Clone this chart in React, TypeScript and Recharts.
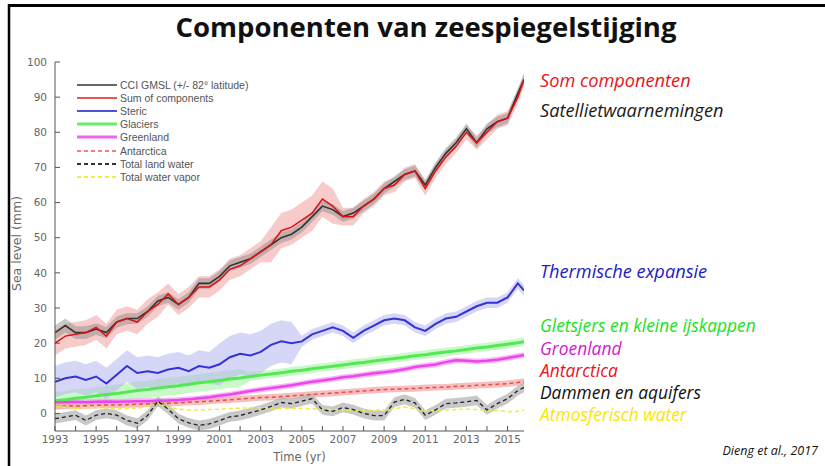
import React from "react";
import { ComposedChart, Line, Area, XAxis, YAxis, Legend } from "recharts";

// time axis (yr), half-year samples
const years = [
  1993, 1993.5, 1994, 1994.5, 1995, 1995.5, 1996, 1996.5, 1997, 1997.5,
  1998, 1998.5, 1999, 1999.5, 2000, 2000.5, 2001, 2001.5, 2002, 2002.5,
  2003, 2003.5, 2004, 2004.5, 2005, 2005.5, 2006, 2006.5, 2007, 2007.5,
  2008, 2008.5, 2009, 2009.5, 2010, 2010.5, 2011, 2011.5, 2012, 2012.5,
  2013, 2013.5, 2014, 2014.5, 2015, 2015.5, 2015.8,
];

// sea level (mm)
const gmsl = [
  23, 25, 23, 23, 24, 23, 26, 27, 27, 29,
  32, 33, 31, 33, 37, 37, 39, 42, 43, 44,
  46, 48, 50, 51, 53, 56, 59, 58, 56, 57,
  59, 61, 64, 66, 68, 69, 65, 70, 74, 77,
  81, 77, 81, 83, 84, 91, 95,
];
const gmslErr = [
  2, 2, 1.8, 1.8, 1.6, 1.6, 1.6, 1.6, 1.5, 1.5,
  1.5, 1.5, 1.5, 1.5, 1.5, 1.5, 1.5, 1.5, 1.5, 1.5,
  1.5, 1.5, 1.5, 1.5, 1.5, 1.5, 1.5, 1.5, 1.5, 1.5,
  1.5, 1.5, 1.5, 1.5, 1.5, 1.5, 1.5, 1.5, 1.5, 1.5,
  1.5, 1.5, 1.5, 1.5, 1.5, 1.5, 1.5,
];
const sumComponents = [
  20, 22, 22.5, 23, 24.5, 22, 26, 27, 26, 29,
  31, 34, 31, 33, 36, 36, 38, 41, 42, 44,
  46, 48, 52, 53, 55, 57, 61, 59, 56, 56,
  59, 61, 64, 65, 68, 69, 64, 69, 73, 76,
  80, 77, 80, 83, 84, 90, 95,
];
const sumErr = [
  3.5, 3.5, 3.5, 3.5, 3.5, 3.5, 3.5, 3.5, 3.5, 3.5,
  3.5, 3, 3, 3, 3, 3, 3, 3, 3, 3,
  3, 5, 5, 5, 5, 5, 5, 5, 2.5, 2.5,
  2, 2, 2, 2, 2, 2, 2, 2, 2, 2,
  2, 2, 2, 2, 2, 2, 2,
];
const steric = [
  9, 10, 10.5, 9.5, 10.5, 8.5, 11, 13.5, 11.5, 12,
  11.5, 12.5, 13, 12, 13.5, 13, 14, 16, 17, 16.5,
  17.5, 19.5, 20.5, 20, 20.5, 22.5, 23.5, 24.5, 23.5, 21.5,
  23.5, 25, 26.5, 27, 26.5, 24.5, 23.5, 25.5, 27, 27.5,
  29, 30.5, 31.5, 31.5, 33, 37, 35,
];
const stericErr = [
  4.5, 4.5, 4.5, 4.5, 4.5, 4.5, 4.5, 4.5, 4.5, 4.5,
  4.5, 4.5, 4.5, 4.5, 4.5, 4.5, 6, 6, 6, 6,
  6, 6, 6, 6, 1.5, 1.5, 1.5, 1.5, 1.5, 1.5,
  1.5, 1.5, 1.5, 1.5, 1.5, 1.5, 1.5, 1.5, 1.5, 1.5,
  1.5, 1.5, 1.5, 1.5, 1.5, 1.5, 1.5,
];
const glaciers = [
  3.6, 3.9, 4.3, 4.6, 5.0, 5.4, 5.7, 6.1, 6.5, 6.8,
  7.2, 7.6, 7.9, 8.3, 8.7, 9.0, 9.4, 9.8, 10.1, 10.5,
  10.9, 11.2, 11.6, 12.0, 12.3, 12.7, 13.1, 13.4, 13.8, 14.2,
  14.5, 14.9, 15.3, 15.6, 16.0, 16.4, 16.7, 17.1, 17.5, 17.8,
  18.2, 18.6, 18.9, 19.3, 19.7, 20.1, 20.4,
];
const glaciersErr = [
  2.5, 2.5, 2.5, 2.5, 2.5, 2.5, 2.5, 2.5, 2.5, 2.5,
  2.5, 2.5, 2.5, 2.5, 2.5, 2.5, 2.5, 2.5, 2.5, 1.2,
  1.2, 1.2, 1.2, 1.2, 1.2, 1.2, 1.2, 1.2, 1.2, 1.2,
  1.2, 1.2, 1.2, 1.2, 1.2, 1.2, 1.2, 1.2, 1.2, 1.2,
  1.2, 1.2, 1.2, 1.2, 1.2, 1.2, 1.2,
];
const greenland = [
  3.2, 3.2, 3.3, 3.2, 3.3, 3.4, 3.3, 3.4, 3.5, 3.5,
  3.6, 3.7, 3.8, 4.0, 4.3, 4.6, 5.0, 5.4, 5.9, 6.4,
  6.8, 7.2, 7.6, 8.0, 8.5, 9.0, 9.4, 9.8, 10.3, 10.6,
  11.0, 11.4, 11.7, 12.1, 12.6, 13.2, 13.6, 13.9, 14.6, 15.1,
  15.0, 14.8, 15.0, 15.3, 15.8, 16.3, 16.6,
];
const antarctica = [
  2.0, 2.1, 2.1, 2.2, 2.3, 2.4, 2.4, 2.5, 2.6, 2.7,
  2.8, 2.9, 3.0, 3.2, 3.3, 3.5, 3.7, 3.9, 4.1, 4.3,
  4.5, 4.6, 4.8, 5.0, 5.2, 5.4, 5.6, 5.8, 6.0, 6.2,
  6.4, 6.6, 6.8, 6.9, 7.0, 7.1, 7.3, 7.4, 7.5, 7.7,
  7.8, 8.0, 8.1, 8.3, 8.5, 8.8, 9.1,
];
const landWater = [
  -1.5, -1, -0.5, -2, -0.5, 0, -0.5, -2, -2.8, -0.6,
  3.5, 1.2, -1.5, -2.7, -3.4, -3, -2, -1, -0.6, 0.2,
  1, 2, 3.1, 2.8, 3.5, 4.2, 1, 0.6, 1.7, 1.1,
  0, -0.6, -0.6, 3.2, 4, 3, -0.5, 1, 2.8, 3,
  3.3, 3.7, 1, 2.8, 4.2, 6.5, 7.4,
];
const waterVapor = [
  2.0, 1.8, 1.5, 1.6, 1.8, 1.5, 1.2, 1.4, 1.5, 2.0,
  2.6, 1.8, 1.2, 1.0, 1.0, 1.1, 1.2, 1.4, 1.5, 1.6,
  1.6, 1.5, 1.4, 1.5, 1.5, 1.3, 1.2, 1.1, 1.0, 0.9,
  0.8, 0.9, 1.0, 1.4, 1.8, 1.3, 0.8, 0.9, 1.0, 1.1,
  1.2, 1.1, 1.0, 0.8, 0.5, 0.6, 1.0,
];
const greenlandErr = 0.8;
const antarcticaErr = 0.9;
const landWaterErr = 1.4;

const xTicks = [
  1993, 1994, 1995, 1996, 1997, 1998, 1999, 2000, 2001, 2002, 2003, 2004,
  2005, 2006, 2007, 2008, 2009, 2010, 2011, 2012, 2013, 2014, 2015,
];
const xTickLabels = ["1993", "1995", "1997", "1999", "2001", "2003", "2005", "2007", "2009", "2011", "2013", "2015"];
const yTicks = [0, 10, 20, 30, 40, 50, 60, 70, 80, 90, 100];

const legendItems = [
  { name: "CCI GMSL (+/- 82° latitude)", color: "#666", width: 2, dash: undefined },
  { name: "Sum of components", color: "#ee5555", width: 2, dash: undefined },
  { name: "Steric", color: "#5050dd", width: 2, dash: undefined },
  { name: "Glaciers", color: "#66ee66", width: 3, dash: undefined },
  { name: "Greenland", color: "#ee66ee", width: 3, dash: undefined },
  { name: "Antarctica", color: "#ee8080", width: 2, dash: "4 3" },
  { name: "Total land water", color: "#333", width: 2, dash: "4 3" },
  { name: "Total water vapor", color: "#eeee44", width: 2, dash: "4 3" },
];

const annotations = [
  { text: "Som componenten", color: "#e8141b", y: 87, size: 18.2 },
  { text: "Satellietwaarnemingen", color: "#1a1a1a", y: 117, size: 18.2 },
  { text: "Thermische expansie", color: "#2020c8", y: 278, size: 18.2 },
  { text: "Gletsjers en kleine ijskappen", color: "#22e022", y: 332, size: 17.4 },
  { text: "Groenland", color: "#d020d0", y: 354.5, size: 17.4 },
  { text: "Antarctica", color: "#e8141b", y: 376.5, size: 17.4 },
  { text: "Dammen en aquifers", color: "#111", y: 398.5, size: 17.4 },
  { text: "Atmosferisch water", color: "#ffe400", y: 420.5, size: 17.4 },
];

const band = (v: number[], e: number[] | number, i: number) => {
  const err = Array.isArray(e) ? e[i] : e;
  return [v[i] - err, v[i] + err];
};

const data = years.map((t, i) => ({
  t,
  gmsl: gmsl[i],
  gmslBand: band(gmsl, gmslErr, i),
  sum: sumComponents[i],
  sumBand: band(sumComponents, sumErr, i),
  steric: steric[i],
  stericBand: band(steric, stericErr, i),
  glaciers: glaciers[i],
  glaciersBand: band(glaciers, glaciersErr, i),
  greenland: greenland[i],
  greenlandBand: band(greenland, greenlandErr, i),
  antarctica: antarctica[i],
  antarcticaBand: band(antarctica, antarcticaErr, i),
  landWater: landWater[i],
  landWaterBand: band(landWater, landWaterErr, i),
  waterVapor: waterVapor[i],
}));

const axisColor = "#555";
const tickStyle = { fontSize: 10.5, fill: "#666", fontFamily: "'DejaVu Sans', sans-serif" };

function LegendBox() {
  return (
    <div
      style={{
        fontFamily: "'Liberation Sans', Arial, sans-serif",
        fontSize: 10.5,
        color: "#555",
      }}
    >
      {legendItems.map((item) => (
        <div key={item.name} style={{ display: "flex", alignItems: "center", height: 13.2 }}>
          <svg width={40} height={6} style={{ marginRight: 3 }}>
            <line
              x1={0}
              y1={3}
              x2={40}
              y2={3}
              stroke={item.color}
              strokeWidth={item.width}
              strokeDasharray={item.dash}
            />
          </svg>
          <span style={{ whiteSpace: "nowrap" }}>{item.name}</span>
        </div>
      ))}
    </div>
  );
}

const noTick = () => <g />;

export default function App() {
  return (
    <div style={{ position: "absolute", left: 0, top: 0, width: 825, height: 466, background: "#fff" }}>
      <ComposedChart
        width={825}
        height={466}
        data={data}
        margin={{ top: 62, right: 301, bottom: 0, left: 25 }}
      >
        <XAxis
          dataKey="t"
          type="number"
          domain={[1993, 2015.8]}
          allowDataOverflow
          ticks={xTicks}
          interval={0}
          height={35}
          tickSize={-5}
          tickMargin={10}
          stroke={axisColor}
          tick={tickStyle}
          tickFormatter={(v: number) => (xTickLabels.includes(String(v)) ? String(v) : "")}
          label={{
            content: (p: any) => (
              <text
                x={p.viewBox.x + p.viewBox.width / 2 + 10}
                y={p.viewBox.y + 30}
                textAnchor="middle"
                fontSize={11.5}
                fill="#666"
                fontFamily="'DejaVu Sans', sans-serif"
              >
                Time (yr)
              </text>
            ),
          }}
        />
        <XAxis
          xAxisId="top"
          orientation="top"
          type="number"
          domain={[1993, 2015.8]}
          allowDataOverflow
          ticks={xTicks}
          interval={0}
          height={0}
          tickSize={-5}
          stroke={axisColor}
          tick={noTick}
        />
        <YAxis
          type="number"
          domain={[-5, 100]}
          allowDataOverflow
          ticks={yTicks}
          interval={0}
          width={30}
          tickSize={-5}
          tickMargin={13}
          stroke={axisColor}
          tick={tickStyle}
          label={{
            content: (p: any) => {
              const cx = p.viewBox.x - 4;
              const cy = p.viewBox.y + p.viewBox.height / 2 - 3;
              return (
                <text
                  x={cx}
                  y={cy}
                  transform={`rotate(-90 ${cx} ${cy})`}
                  textAnchor="middle"
                  fontSize={12.5}
                  fill="#666"
                  fontFamily="'DejaVu Sans', sans-serif"
                >
                  Sea level (mm)
                </text>
              );
            },
          }}
        />
        <YAxis
          yAxisId="right"
          orientation="right"
          type="number"
          domain={[-5, 100]}
          allowDataOverflow
          ticks={yTicks}
          interval={0}
          width={0}
          tickSize={-5}
          stroke={axisColor}
          tick={noTick}
        />
        <Legend
          layout="horizontal"
          verticalAlign="middle"
          align="center"
          content={() => <LegendBox />}
          wrapperStyle={{ left: 77, top: 78, width: 220, height: 110 }}
        />

        {/* uncertainty bands */}
        <Area dataKey="glaciersBand" type="linear" stroke="none" fill="#9cf29c" fillOpacity={0.55} legendType="none" isAnimationActive={false} activeDot={false} />
        <Area dataKey="stericBand" type="linear" stroke="none" fill="#b4b4ee" fillOpacity={0.55} legendType="none" isAnimationActive={false} activeDot={false} />
        <Area dataKey="greenlandBand" type="linear" stroke="none" fill="#f29cf2" fillOpacity={0.7} legendType="none" isAnimationActive={false} activeDot={false} />
        <Area dataKey="antarcticaBand" type="linear" stroke="none" fill="#f4a8a8" fillOpacity={0.75} legendType="none" isAnimationActive={false} activeDot={false} />
        <Area dataKey="landWaterBand" type="linear" stroke="none" fill="#b0b0b0" fillOpacity={0.7} legendType="none" isAnimationActive={false} activeDot={false} />
        <Area dataKey="sumBand" type="linear" stroke="none" fill="#f08c8c" fillOpacity={0.45} legendType="none" isAnimationActive={false} activeDot={false} />
        <Area dataKey="gmslBand" type="linear" stroke="none" fill="#888" fillOpacity={0.45} legendType="none" isAnimationActive={false} activeDot={false} />

        {/* series */}
        <Line dataKey="glaciers" type="linear" stroke="#55e855" strokeWidth={3} dot={false} isAnimationActive={false} />
        <Line dataKey="greenland" type="linear" stroke="#ee44ee" strokeWidth={2.5} dot={false} isAnimationActive={false} />
        <Line dataKey="antarctica" type="linear" stroke="#e05050" strokeWidth={1.5} strokeDasharray="4 3" dot={false} isAnimationActive={false} />
        <Line dataKey="waterVapor" type="linear" stroke="#eeee33" strokeWidth={1.5} strokeDasharray="4 3" dot={false} isAnimationActive={false} />
        <Line dataKey="landWater" type="linear" stroke="#222" strokeWidth={1.3} strokeDasharray="4 3" dot={false} isAnimationActive={false} />
        <Line dataKey="steric" type="linear" stroke="#3333d8" strokeWidth={2} dot={false} isAnimationActive={false} />
        <Line dataKey="gmsl" type="linear" stroke="#333" strokeWidth={1.6} dot={false} isAnimationActive={false} />
        <Line dataKey="sum" type="linear" stroke="#dd1111" strokeWidth={1.5} dot={false} isAnimationActive={false} />
      </ComposedChart>

      <svg
        width={825}
        height={466}
        style={{ position: "absolute", left: 0, top: 0, pointerEvents: "none" }}
      >
        <line x1={8} y1={5.5} x2={825} y2={5.5} stroke="#000" strokeWidth={3} />
        <line x1={9} y1={4} x2={9} y2={466} stroke="#000" strokeWidth={2.5} />
        <text
          x={426}
          y={37}
          textAnchor="middle"
          fontFamily="'Open Sans', sans-serif"
          fontWeight={700}
          fontSize={27.5}
          fill="#111"
        >
          Componenten van zeespiegelstijging
        </text>
        {annotations.map((a) => (
          <text
            key={a.text}
            x={540}
            y={a.y}
            fontFamily="'Open Sans', sans-serif"
            fontStyle="italic"
            fontSize={a.size}
            fill={a.color}
          >
            {a.text}
          </text>
        ))}
        <text
          x={818}
          y={455}
          textAnchor="end"
          fontFamily="'Open Sans', sans-serif"
          fontStyle="italic"
          fontSize={12.5}
          fill="#111"
        >
          Dieng et al., 2017
        </text>
      </svg>
    </div>
  );
}
